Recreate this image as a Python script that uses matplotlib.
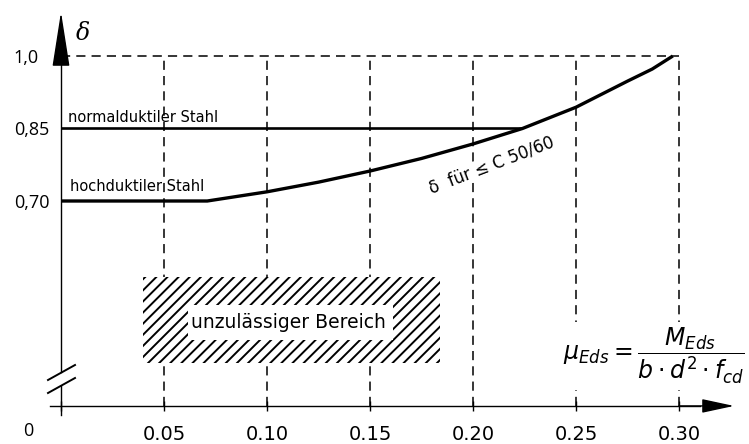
import matplotlib
matplotlib.use("Agg")
import matplotlib.pyplot as plt
from matplotlib.patches import Rectangle

# ---- data ----
x_ticks = [0.05, 0.10, 0.15, 0.20, 0.25, 0.30]
x_ticklabels = ["0.05", "0.10", "0.15", "0.20", "0.25", "0.30"]
y_ticks = [1.0, 0.85, 0.70]
y_ticklabels = ["1,0", "0,85", "0,70"]

mu_hoch = [0.0, 0.071, 0.10, 0.125, 0.15, 0.175, 0.20, 0.224, 0.25, 0.275, 0.287, 0.297]
delta_hoch = [0.70, 0.70, 0.719, 0.739, 0.762, 0.788, 0.818, 0.85, 0.894, 0.948, 0.973, 1.0]
mu_norm = [0.0, 0.224]
delta_norm = [0.85, 0.85]

# forbidden region (hatched) and its inner label box
hatch_x = (0.040, 0.184)
hatch_y = (0.365, 0.543)
inner_x = (0.0617, 0.161)
inner_y = (0.412, 0.485)

y_base = 0.276  # broken axis: "0" level drawn at this height

# ---- figure ----
W, H = 749, 444
plt.rcParams["hatch.linewidth"] = 1.4
plt.rcParams["mathtext.fontset"] = "dejavusans"
fig = plt.figure(figsize=(W / 100, H / 100), dpi=100)
ax = fig.add_axes([0, 0, 1, 1])
XPX = 2060.0          # px per unit mu
YPX = 72.5 / 0.15     # px per unit delta
x0px, y070px = 61, 201
ax.set_xlim(-x0px / XPX, (W - x0px) / XPX)
ax.set_ylim(0.70 - (H - y070px) / YPX, 0.70 + y070px / YPX)

def P(xp, yp):
    return ((xp - x0px) / XPX, 0.70 + (y070px - yp) / YPX)

for s in ["top", "right", "left"]:
    ax.spines[s].set_visible(False)
ax.spines["bottom"].set_position(("data", y_base))
ax.spines["bottom"].set_bounds(P(50, 0)[0], 0.31)
ax.spines["bottom"].set_linewidth(1.0)
ax.spines["left"].set_position(("data", 0))

ax.set_xticks([0.0] + x_ticks)
ax.set_xticklabels([""] + x_ticklabels, fontsize=14, family=["DejaVu Sans"])
ax.tick_params(axis="x", direction="inout", length=7, width=1.0, pad=10)
ax.set_yticks(y_ticks)
ax.set_yticklabels(y_ticklabels, fontsize=13, family=["Open Sans", "DejaVu Sans"])
ax.tick_params(axis="y", length=0, pad=34)
for lab in ax.get_yticklabels():
    lab.set_horizontalalignment("left")

# y axis (with break)
yb_top = P(0, 372)[1]
yb_bot = P(0, 386)[1]
ax.plot([0, 0], [P(0, 415)[1], yb_bot], color="black", lw=1.0, zorder=5)
ax.plot([0, 0], [yb_top, 1.0], color="black", lw=1.0, zorder=5)
for dy in (0, 13):
    a = P(48, 380 + dy)
    b = P(75, 365 + dy)
    ax.plot([a[0], b[0]], [a[1], b[1]], color="black", lw=1.4, zorder=6)

# arrows
ax.annotate("", xy=(0, P(0, 12)[1]), xytext=(0, 0.99),
            arrowprops=dict(arrowstyle="-|>,head_length=35,head_width=5.5",
                            mutation_scale=1, color="black", lw=1.0,
                            shrinkA=0, shrinkB=0), zorder=6)
ax.annotate("", xy=(P(734, 0)[0], y_base), xytext=(0.30, y_base),
            arrowprops=dict(arrowstyle="-|>,head_length=20,head_width=4.3",
                            mutation_scale=1, color="black", lw=1.0,
                            shrinkA=0, shrinkB=0), zorder=6)

# dashed grid
dash = dict(color="black", lw=1.1, dashes=(6, 4), zorder=2)
ax.plot([0, 0.30], [1.0, 1.0], **dash)
for xt in x_ticks:
    ax.plot([xt, xt], [y_base, 1.0], **dash)

# curves
ax.plot(mu_norm, delta_norm, color="black", lw=1.9, zorder=4, solid_capstyle="butt")
ax.plot(mu_hoch, delta_hoch, color="black", lw=2.4, zorder=4, solid_capstyle="butt")

# hatched region
ax.add_patch(Rectangle((hatch_x[0], hatch_y[0]), hatch_x[1] - hatch_x[0], hatch_y[1] - hatch_y[0],
                       facecolor="white", edgecolor="black", hatch="///", lw=0, zorder=3))
ax.add_patch(Rectangle((inner_x[0], inner_y[0]), inner_x[1] - inner_x[0], inner_y[1] - inner_y[0],
                       facecolor="white", edgecolor="none", lw=0, zorder=3.5))

ax.text(*P(68, 117), "normalduktiler Stahl", fontsize=10.5, va="center", ha="left", zorder=7)
ax.text(*P(70, 186), "hochduktiler Stahl", fontsize=10.5, va="center", ha="left", zorder=7)
ax.text(*P(288, 322), "unzulässiger Bereich", fontsize=13.5, va="center", ha="center", zorder=7)
ax.text(*P(492, 165), "δ  für ≤ C 50/60", fontsize=12, va="center", ha="center",
        rotation=21, rotation_mode="anchor", zorder=3,
        bbox=dict(facecolor="white", edgecolor="none", pad=0.5))

ax.text(*P(76, 33), "δ", fontsize=17, family=["DejaVu Serif"], style="italic", va="center", ha="left")
ax.text(*P(28, 431), "0", fontsize=13, family=["Open Sans", "DejaVu Sans"], va="center", ha="center")

ax.text(*P(654, 356), r"$\mu_{Eds} = \dfrac{M_{Eds}}{b\cdot d^2\cdot f_{cd}}$", fontsize=17,
        va="center", ha="center", zorder=7,
        bbox=dict(facecolor="white", edgecolor="none", pad=3))

fig.savefig("out.png", dpi=100)
